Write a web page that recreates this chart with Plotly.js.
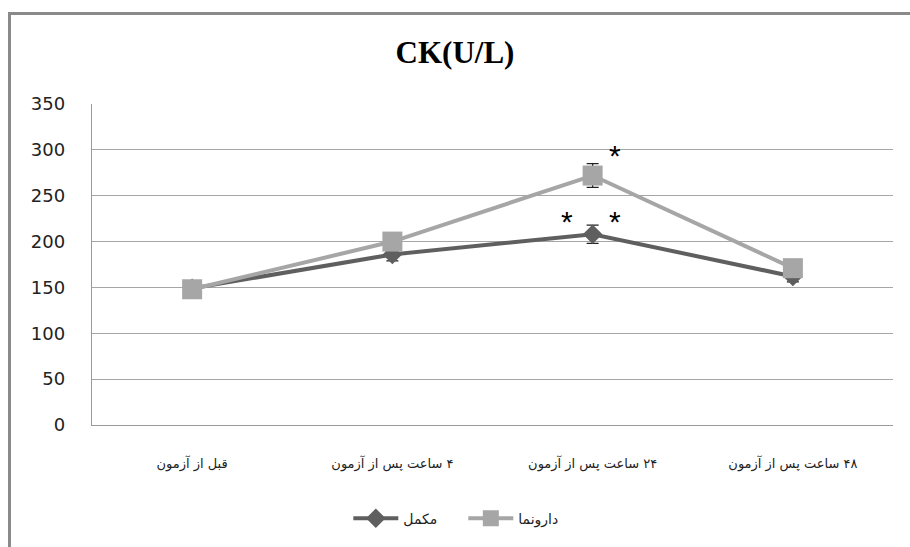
<!DOCTYPE html>
<html>
<head>
<meta charset="utf-8">
<script src="https://cdn.plot.ly/plotly-3.0.1.min.js"></script>
<style>
html,body{margin:0;padding:0;background:#fff;}
#wrap{position:relative;width:910px;height:547px;overflow:hidden;}
#chart{position:absolute;left:0;top:0;width:910px;height:547px;}
#frame{position:absolute;left:8px;top:12px;width:920px;height:560px;border-left:3px solid #8a8a8a;border-top:3px solid #8a8a8a;pointer-events:none;}
</style>
</head>
<body>
<div id="wrap"><div id="chart"></div><div id="frame"></div></div>
<script>
const categories = ["قبل از آزمون", "۴ ساعت پس از آزمون", "۲۴ ساعت پس از آزمون", "۴۸ ساعت پس از آزمون"];
const supplementName = "مکمل";
const placeboName = "دارونما";
const supplementValues = [149, 186, 208, 162];
const supplementErrors = [5, 7, 10, 6];
const placeboValues = [148, 200, 272, 171];
const placeboErrors = [4, 5, 13, 5];
const yTicks = [0, 50, 100, 150, 200, 250, 300, 350];
const starMarks = [
  {cat: 2, y: 300, side: 1},
  {cat: 2, y: 228, side: -1},
  {cat: 2, y: 228, side: 1}
];

const RLM = '\u200F';
const x = categories.map((c, i) => i);
const tickText = categories.map(c => RLM + c + RLM);

const traces = [
  {
    x: x, y: supplementValues, name: RLM + supplementName, type: 'scatter', mode: 'lines+markers',
    line: {color: '#5f5f5f', width: 4},
    marker: {symbol: 'diamond', size: 15, color: '#5f5f5f'},
    error_y: {type: 'data', array: supplementErrors, visible: true, color: '#222', thickness: 1.3, width: 6}
  },
  {
    x: x, y: placeboValues, name: RLM + placeboName, type: 'scatter', mode: 'lines+markers',
    line: {color: '#a6a6a6', width: 4},
    marker: {symbol: 'square', size: 20, color: '#a6a6a6'},
    error_y: {type: 'data', array: placeboErrors, visible: true, color: '#222', thickness: 1.3, width: 6}
  }
];

const annotations = starMarks.map(s => ({
  x: s.cat, y: s.y, xref: 'x', yref: 'y', text: '*', showarrow: false,
  xshift: s.side > 0 ? 22 : -26, yshift: -6,
  font: {family: 'Liberation Sans, Arial', size: 30, color: '#000'}
}));

const layout = {
  width: 910, height: 547,
  margin: {l: 92, r: 17, t: 104, b: 122},
  paper_bgcolor: '#fff', plot_bgcolor: '#fff',
  title: {text: 'CK(U/L)', x: 0.5, xanchor: 'center', y: 0.905, yanchor: 'middle',
          font: {family: 'Liberation Serif, Times New Roman, serif', size: 31, color: '#000', weight: 'bold'}},
  showlegend: true,
  legend: {orientation: 'h', x: 0.32, xanchor: 'left', y: -0.242, yanchor: 'top',
           itemwidth: 45, entrywidth: 55, entrywidthmode: 'pixels',
           font: {family: 'DejaVu Sans', size: 14, color: '#222'}},
  xaxis: {
    type: 'linear', range: [-0.5, 3.5], tickmode: 'array', tickvals: x, ticktext: tickText,
    showgrid: false, zeroline: false, showline: true, linecolor: '#9a9a9a', linewidth: 1.2,
    ticks: '', ticklabelstandoff: 26,
    tickfont: {family: 'DejaVu Sans', size: 13, color: '#222'}
  },
  yaxis: {
    range: [0, 350], tickmode: 'array', tickvals: yTicks,
    showgrid: true, gridcolor: '#a6a6a6', gridwidth: 1.2, zeroline: false,
    showline: true, linecolor: '#9a9a9a', linewidth: 1.2, ticks: '', ticklabelstandoff: 22,
    tickfont: {family: 'DejaVu Sans', size: 18, color: '#222'}
  },
  annotations: annotations
};

Plotly.newPlot('chart', traces, layout, {displayModeBar: false, staticPlot: true});
</script>
</body>
</html>
